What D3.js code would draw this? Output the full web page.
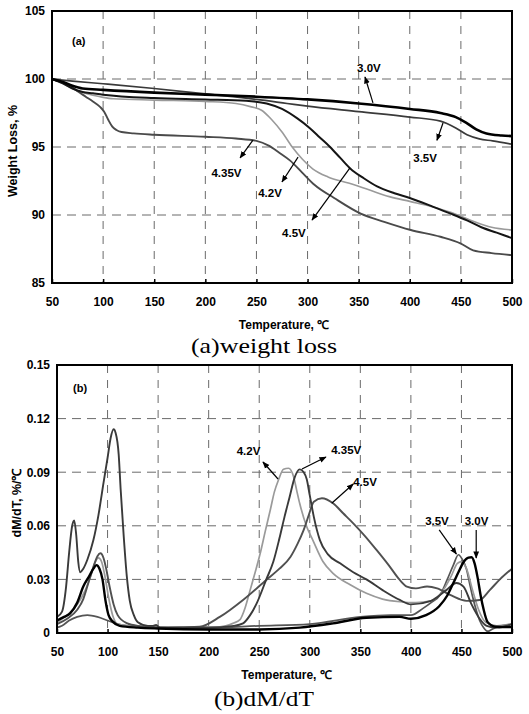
<!DOCTYPE html>
<html><head><meta charset="utf-8">
<script src="https://cdn.jsdelivr.net/npm/d3@7"></script>
<style>
body{margin:0;background:#fff;}
</style></head><body>
<svg id="c" width="529" height="714" font-family="'Liberation Sans',Arial,sans-serif"></svg>
<script>
// ---------- DATA ----------
const tempTicks = [50,100,150,200,250,300,350,400,450,500];
const weightTicks = [85,90,95,100,105];
const rateTicks = [0,0.03,0.06,0.09,0.12,0.15];
const rateTickLabels = ["0","0.03","0.06","0.09","0.12","0.15"];
const seriesNames = ["3.0V","3.5V","4.2V","4.35V","4.5V"];

// (a) weight loss, % : [temperature, value]
const w30 = [[50,100],[60,99.8],[70,99.5],[80,99.3],[100,99.2],[150,99.0],[200,98.85],[250,98.7],[300,98.5],[350,98.2],[400,97.8],[430,97.5],[445,97.2],[455,96.8],[465,96.3],[475,96.0],[490,95.85],[500,95.8]];
const w35 = [[50,100],[70,99.85],[100,99.65],[150,99.3],[200,98.9],[250,98.5],[280,98.2],[300,98.0],[350,97.6],[400,97.2],[430,96.9],[445,96.4],[456,95.9],[468,95.6],[481,95.45],[500,95.2]];
const w42 = [[50,100],[60,99.7],[70,99.3],[80,99.0],[90,98.8],[100,98.65],[110,98.55],[150,98.45],[200,98.35],[230,98.2],[245,97.95],[255,97.7],[265,97.0],[275,96.1],[285,95.0],[295,94.1],[305,93.4],[320,92.8],[340,92.35],[360,91.85],[380,91.35],[400,91.0],[420,90.65],[440,90.2],[460,89.6],[480,89.1],[500,88.9]];
const w435 = [[50,100],[58,99.8],[67,99.55],[75,99.1],[83,98.7],[90,98.35],[97,97.95],[101,97.6],[105,97.0],[109,96.5],[113,96.25],[118,96.1],[130,96.0],[150,95.9],[200,95.75],[230,95.62],[250,95.45],[262,95.1],[272,94.6],[283,94.0],[295,93.1],[307,92.2],[326,91.25],[352,90.1],[375,89.5],[401,88.9],[430,88.4],[450,87.9],[462,87.4],[480,87.2],[500,87.05]];
const w45 = [[50,100],[60,99.7],[70,99.3],[80,99.05],[90,98.95],[100,98.85],[150,98.6],[200,98.5],[240,98.4],[260,98.2],[275,97.8],[290,97.1],[302,96.4],[312,95.7],[322,95.0],[332,94.2],[342,93.4],[355,92.7],[368,92.1],[385,91.6],[400,91.25],[423,90.6],[440,90.1],[456,89.6],[470,89.1],[485,88.7],[500,88.3]];

// (b) dM/dT, %/°C : [temperature, value]
const d30 = [[50,0.007],[57,0.009],[63,0.011],[70,0.017],[76,0.026],[82,0.032],[86,0.036],[89,0.038],[92,0.036],[95,0.030],[98,0.018],[101,0.010],[105,0.0065],[112,0.004],[130,0.003],[150,0.0025],[200,0.002],[250,0.002],[290,0.003],[323,0.0054],[356,0.0085],[389,0.009],[400,0.008],[415,0.010],[428,0.015],[436,0.021],[442,0.028],[447,0.034],[452,0.0396],[457,0.0422],[460,0.0424],[463,0.039],[466,0.031],[469,0.021],[472,0.013],[476,0.006],[484,0.0035],[500,0.0033]];
const d35 = [[50,0.003],[55,0.004],[62,0.007],[70,0.009],[80,0.010],[90,0.009],[100,0.007],[110,0.005],[120,0.004],[150,0.003],[200,0.003],[250,0.004],[300,0.005],[350,0.009],[380,0.010],[400,0.010],[412,0.0138],[420,0.017],[429,0.0214],[436,0.030],[442,0.038],[447,0.0438],[451,0.041],[455,0.0357],[458,0.028],[461,0.0204],[465,0.012],[468,0.007],[472,0.003],[476,0.001],[480,0.002],[485,0.0033],[500,0.005]];
const d42 = [[50,0.006],[60,0.010],[70,0.016],[78,0.024],[84,0.033],[88,0.040],[91,0.042],[94,0.040],[97,0.033],[101,0.020],[105,0.010],[110,0.005],[120,0.004],[150,0.003],[191,0.0035],[211,0.0035],[224,0.0054],[231,0.0075],[236,0.014],[241,0.024],[246,0.034],[251,0.0446],[256,0.057],[261,0.069],[265,0.079],[269,0.0856],[274,0.0916],[279,0.0922],[284,0.0875],[287,0.080],[290,0.0726],[297,0.0595],[303,0.052],[313,0.040],[323,0.0334],[340,0.027],[356,0.0222],[372,0.019],[389,0.0175],[405,0.017],[420,0.018],[432,0.024],[440,0.032],[446,0.039],[450,0.040],[455,0.036],[461,0.024],[467,0.013],[474,0.006],[485,0.004],[500,0.005]];
const d435 = [[50,0.009],[55,0.012],[59,0.026],[62,0.045],[65,0.060],[67,0.063],[69,0.055],[71,0.040],[73,0.034],[76,0.036],[80,0.041],[86,0.052],[91,0.066],[96,0.084],[100,0.098],[103,0.109],[106,0.114],[108,0.112],[111,0.100],[113,0.080],[116,0.054],[119,0.032],[122,0.018],[126,0.010],[130,0.006],[140,0.004],[145,0.004],[148,0.0045],[152,0.003],[200,0.003],[225,0.004],[234,0.0054],[241,0.010],[247,0.016],[257,0.030],[264,0.040],[270,0.053],[275,0.065],[280,0.076],[285,0.087],[290,0.0916],[294,0.090],[297,0.086],[300,0.077],[304,0.065],[310,0.052],[318,0.044],[330,0.039],[343,0.034],[356,0.030],[372,0.024],[389,0.0185],[400,0.016],[420,0.018],[435,0.024],[445,0.028],[452,0.026],[460,0.016],[468,0.008],[475,0.004],[485,0.003],[500,0.005]];
const d45 = [[50,0.005],[60,0.008],[70,0.013],[76,0.019],[81,0.028],[86,0.037],[90,0.043],[93,0.0446],[96,0.042],[99,0.035],[102,0.026],[106,0.016],[110,0.010],[119,0.0055],[130,0.004],[160,0.003],[191,0.0035],[211,0.009],[234,0.0185],[257,0.0297],[270,0.036],[281,0.0427],[288,0.050],[294,0.0577],[299,0.066],[304,0.0735],[312,0.0754],[323,0.0726],[333,0.067],[343,0.0614],[355,0.054],[366,0.0465],[378,0.038],[389,0.0297],[396,0.026],[405,0.025],[416,0.026],[426,0.025],[440,0.021],[455,0.018],[468,0.0185],[478,0.024],[488,0.030],[500,0.036]];

// annotations in data coordinates: label, label x/y, arrow from (x1,y1) to (x2,y2)
const notesA = [
  {t:"3.0V", x:360, y:100.5, x1:364, y1:98.24, x2:356.2, y2:100.15},
  {t:"3.5V", x:415, y:93.9, x1:432.5, y1:96.76, x2:426.6, y2:95.5},
  {t:"4.35V", x:220.7, y:92.8, x1:246.6, y1:95.5, x2:234, y2:94.2},
  {t:"4.2V", x:263.3, y:91.3, x1:290.7, y1:94.26, x2:275, y2:92.43},
  {t:"4.5V", x:286.7, y:88.4, x1:341.5, y1:93.46, x2:304.4, y2:89.63}
];
const notesB = [
  {t:"4.2V", x:239.4, y:0.0996, x1:268.6, y1:0.0862, x2:253.7, y2:0.0957},
  {t:"4.35V", x:336, y:0.1002, x1:292.3, y1:0.0918, x2:316, y2:0.0985},
  {t:"4.5V", x:354.6, y:0.0823, x1:321.7, y1:0.0726, x2:343, y2:0.0834},
  {t:"3.5V", x:425.8, y:0.0604, x1:428, y1:0.0577, x2:445, y2:0.0442},
  {t:"3.0V", x:464.9, y:0.0604, x1:464.6, y1:0.0577, x2:464.6, y2:0.0420}
];

// ---------- STYLE ----------
const styleA = [
  {data:w35, color:"#3a3a3a", w:1.7},
  {data:w42, color:"#9a9a9a", w:1.6},
  {data:w435, color:"#4a4a4a", w:1.9},
  {data:w45, color:"#151515", w:2.0},
  {data:w30, color:"#000", w:2.6}
];
const styleB = [
  {data:d35, color:"#555", w:1.7},
  {data:d42, color:"#9a9a9a", w:1.7},
  {data:d45, color:"#505050", w:1.9},
  {data:d435, color:"#3a3a3a", w:1.9},
  {data:d30, color:"#000", w:2.4}
];

const svg = d3.select("#c");
const defs = svg.append("defs");
defs.append("marker").attr("id","ah").attr("viewBox","0 0 10 10").attr("refX",9).attr("refY",5)
  .attr("markerWidth",6).attr("markerHeight",6).attr("orient","auto")
  .append("path").attr("d","M0,1 L10,5 L0,9 Z").attr("fill","#000");

function panel(cfg){
  const {L,R,T,B,x,y,yTicks,yLabels,series,notes,label,labelPos,ytitle,ytitleX,caption,captionY,captionW} = cfg;
  const g = svg.append("g");
  const hg = yTicks.slice(1,-1);
  g.selectAll(".hg").data(hg).join("line")
    .attr("x1",L).attr("x2",R).attr("y1",d=>y(d)).attr("y2",d=>y(d))
    .attr("stroke","#6a6a6a").attr("stroke-width",1).attr("stroke-dasharray","9,6");
  const vg = tempTicks.slice(1,-1);
  g.selectAll(".vg").data(vg).join("line")
    .attr("y1",T).attr("y2",B).attr("x1",d=>x(d)).attr("x2",d=>x(d))
    .attr("stroke","#6a6a6a").attr("stroke-width",1).attr("stroke-dasharray","8,7");
  const line = d3.line().x(d=>x(d[0])).y(d=>y(d[1])).curve(d3.curveMonotoneX);
  g.selectAll(".s").data(series).join("path")
    .attr("d",d=>line(d.data)).attr("fill","none")
    .attr("stroke",d=>d.color).attr("stroke-width",d=>d.w).attr("stroke-linejoin","round");
  g.append("rect").attr("x",L).attr("y",T).attr("width",R-L).attr("height",B-T)
    .attr("fill","none").attr("stroke","#000").attr("stroke-width",2);
  const xa = g.append("g").attr("transform",`translate(0,${B})`)
    .call(d3.axisBottom(x).tickValues(tempTicks).tickSizeInner(-4).tickSizeOuter(0).tickPadding(14));
  const ya = g.append("g").attr("transform",`translate(${L},0)`)
    .call(d3.axisLeft(y).tickValues(yTicks).tickFormat((d,i)=>yLabels[i]).tickSize(0).tickPadding(7));
  [xa,ya].forEach(a=>{
    a.attr("font-family",null).attr("font-size",null);
    a.select(".domain").remove();
    a.selectAll("text").attr("font-size",12).attr("font-weight","bold").attr("fill","#000");
    a.selectAll("line").attr("stroke","#000").attr("stroke-width",1.5);
  });
  g.append("text").attr("x",(L+R)/2+2).attr("y",B+46).attr("text-anchor","middle")
    .attr("font-size",12).attr("font-weight","bold").text("Temperature, ℃");
  g.append("text").attr("transform",`translate(${ytitleX},${(T+B)/2+4}) rotate(-90)`)
    .attr("text-anchor","middle").attr("font-size",12.5).attr("font-weight","bold").text(ytitle);
  g.append("text").attr("x",labelPos[0]).attr("y",labelPos[1]).attr("font-size",11).attr("font-weight","bold").text(label);
  notes.forEach(n=>{
    g.append("line").attr("x1",x(n.x1)).attr("y1",y(n.y1)).attr("x2",x(n.x2)).attr("y2",y(n.y2))
      .attr("stroke","#000").attr("stroke-width",1.2).attr("marker-end","url(#ah)");
    g.append("text").attr("x",x(n.x)).attr("y",y(n.y)).attr("text-anchor","middle")
      .attr("font-size",11.5).attr("font-weight","bold").text(n.t);
  });
  g.append("text").attr("x",264).attr("y",captionY).attr("text-anchor","middle")
    .style("font-family","'Liberation Serif','DejaVu Serif',serif").attr("font-size",21)
    .attr("textLength",captionW).attr("lengthAdjust","spacingAndGlyphs").text(caption);
}

const xA = d3.scaleLinear().domain([50,500]).range([52,512]);
const yA = d3.scaleLinear().domain([85,105]).range([283,11]);
panel({L:52,R:512,T:11,B:283,x:xA,y:yA,yTicks:weightTicks,yLabels:weightTicks.map(String),
  series:styleA,notes:notesA,label:"(a)",labelPos:[72,45],ytitle:"Weight Loss, %",ytitleX:17,
  caption:"(a)weight  loss",captionY:353,captionW:146});

const xB = d3.scaleLinear().domain([50,500]).range([57,512]);
const yB = d3.scaleLinear().domain([0,0.15]).range([633,365]);
panel({L:57,R:512,T:365,B:633,x:xB,y:yB,yTicks:rateTicks,yLabels:rateTickLabels,
  series:styleB,notes:notesB,label:"(b)",labelPos:[73,392],ytitle:"dM/dT, %/℃",ytitleX:21,
  caption:"(b)dM/dT",captionY:706,captionW:100});
</script>
</body></html>
